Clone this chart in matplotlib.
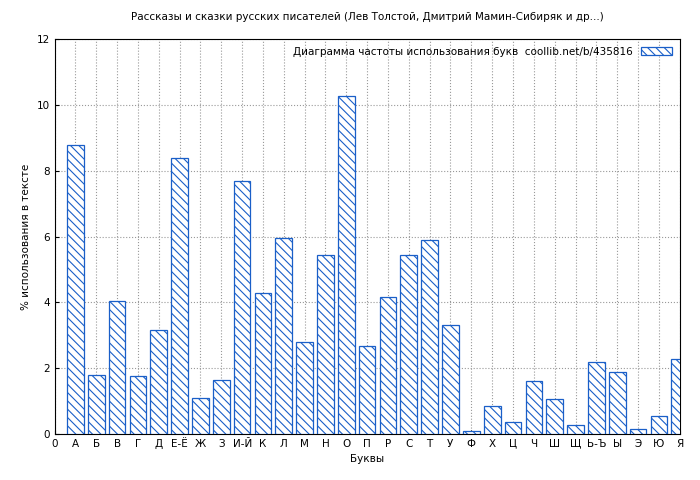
import matplotlib

matplotlib.use("Agg")
import matplotlib.pyplot as plt
import numpy as np

letters = ["А", "Б", "В", "Г", "Д", "Е-Ё", "Ж", "З", "И-Й", "К", "Л", "М", "Н", "О", "П",
           "Р", "С", "Т", "У", "Ф", "Х", "Ц", "Ч", "Ш", "Щ", "Ь-Ъ", "Ы", "Э", "Ю", "Я"]
freq = [8.8, 1.8, 4.05, 1.75, 3.15, 8.4, 1.1, 1.65, 7.7, 4.3, 5.95, 2.8, 5.45, 10.28, 2.68,
        4.15, 5.45, 5.9, 3.3, 0.1, 0.85, 0.35, 1.6, 1.05, 0.28, 2.2, 1.88, 0.15, 0.55, 2.28]

plt.rcParams["font.size"] = 7.5
plt.rcParams["hatch.color"] = "#1a5fc8"
plt.rcParams["hatch.linewidth"] = 0.8

fig = plt.figure(figsize=(7, 4.8), dpi=100)
ax = fig.add_axes([0.078, 0.096, 0.893, 0.822])
x = np.arange(1, len(letters) + 1)
ax.bar(x, freq, 0.8, facecolor="white", edgecolor="#1a5fc8", hatch="\\\\\\\\",
       linewidth=0.9, label="Диаграмма частоты использования букв  coollib.net/b/435816", zorder=3)
ax.set_xlim(0, 30)
ax.set_ylim(0, 12)
ax.set_xticks(np.arange(0, 31), ["0"] + letters)
ax.set_yticks(np.arange(0, 13, 2))
ax.grid(True, linestyle=":", color="#999999", linewidth=0.8, zorder=0)
ax.tick_params(direction="in", length=3)
ax.set_xlabel("Буквы")
ax.set_ylabel("% использования в тексте")
ax.set_title("Рассказы и сказки русских писателей (Лев Толстой, Дмитрий Мамин-Сибиряк и др...)",
             fontsize=7.5, pad=14)
leg = ax.legend(loc="upper right", frameon=False, handlelength=3, markerfirst=False,
                borderaxespad=0.3, fontsize=7.5)
fig.savefig("out.png", dpi=100)
